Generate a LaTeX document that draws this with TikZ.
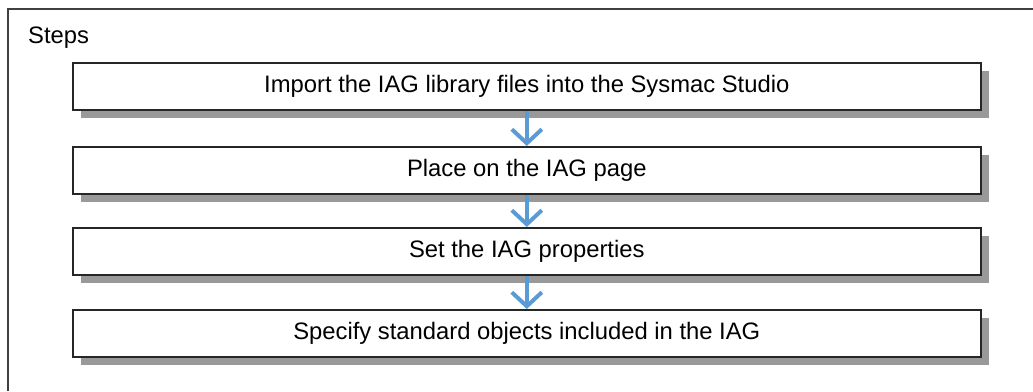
\documentclass[tikz,border=0pt]{standalone}
\usepackage{fontspec}
\setmainfont{Liberation Sans}
\usetikzlibrary{arrows.meta, shadows}
\definecolor{flowblue}{HTML}{5B9BD5}
\tikzset{
  frame line/.style={line width=1.5pt, black!75},
  step box/.style={draw=black!85, line width=1.6pt, fill=white, anchor=north west,
    minimum width=908pt, minimum height=47pt, inner sep=0pt,
    font=\fontsize{23.8pt}{28pt}\selectfont,
    drop shadow={shadow xshift=8pt, shadow yshift=-8pt, fill=black!40, opacity=1}},
  flow arrow/.style={line width=4pt, flowblue, -{Straight Barb[length=14pt, width=30pt, line width=4pt]}},
}

\begin{document}
\begin{tikzpicture}[x=1pt, y=-1pt]
  \useasboundingbox (0,0) rectangle (1033,391);
  \draw[frame line] (8,391) -- (8,9) -- (1033,9);
  \node[anchor=base west, font=\fontsize{23.8pt}{28pt}\selectfont, inner sep=0pt] (title) at (28,43) {Steps};
  \node[step box] (import) at (72,62) {Import the IAG library files into the Sysmac Studio};
  \node[step box] (place) at (72,146) {Place on the IAG page};
  \node[step box] (props) at (72,227) {Set the IAG properties};
  \node[step box] (objects) at (72,309) {Specify standard objects included in the IAG};
  \draw[flow arrow] (import.south) -- (place.north);
  \draw[flow arrow] (place.south) -- (props.north);
  \draw[flow arrow] (props.south) -- (objects.north);
\end{tikzpicture}
\end{document}
